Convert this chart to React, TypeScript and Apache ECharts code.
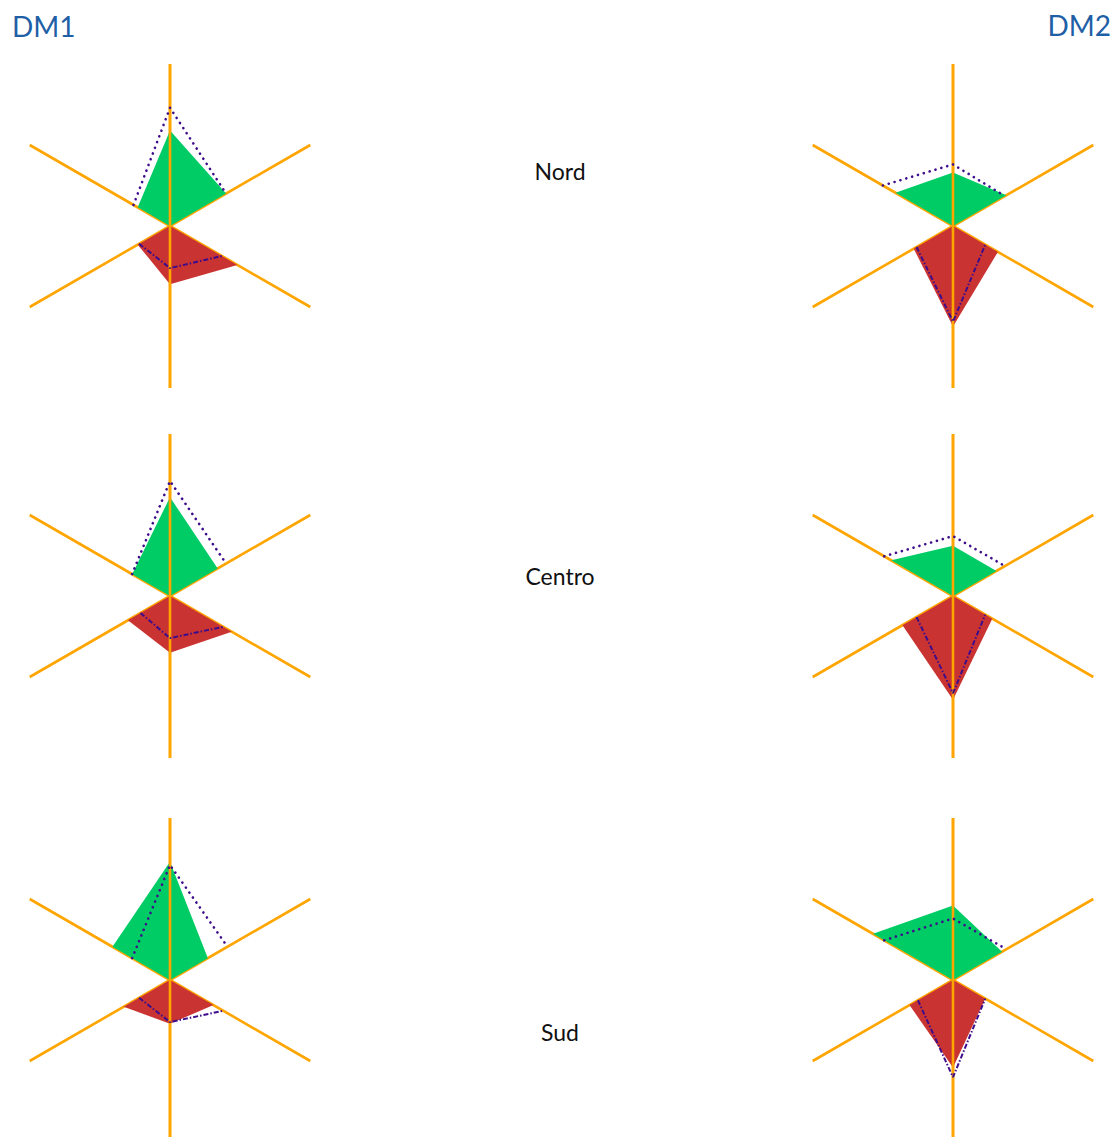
import React, { useEffect, useRef } from "react";
import * as echarts from "echarts";

// Column and row labels
const columns = ["DM1", "DM2"];
const regions = ["Nord", "Centro", "Sud"];

// Axis angles (0 = top, clockwise): upper-left, top, upper-right / lower-left, bottom, lower-right
const upperAngles = [300, 360, 60];
const lowerAngles = [240, 180, 120];

// Values per region (Nord, Centro, Sud); scale 0..100
const dm1Green = [[23, 59, 40], [27, 61, 34], [41, 73, 27]];
const dm1GreenRef = [[26, 73, 40], [27, 71, 40], [27, 71, 41]];
const dm1Red = [[23, 36, 48], [30, 35, 44], [33, 27, 31]];
const dm1RedRef = [[22, 26, 37], [21, 26, 38], [22, 26, 38]];

const dm2Green = [[41, 33, 38], [44, 31, 31], [57, 46, 35]];
const dm2GreenRef = [[50, 38, 37], [49, 37, 37], [49, 38, 38]];
const dm2Red = [[28, 62, 32], [36, 64, 28], [31, 54, 23]];
const dm2RedRef = [[26, 59, 23], [26, 60, 23], [25, 60, 23]];

const GREEN = "#00CC66";
const RED = "#C93331";
const ORANGE = "#FFA500";
const PURPLE = "#3D0D8C";
const BLUE = "#1F5FA6";

const colX = [170, 953];
const rowY = [226, 596, 980];
const RADIUS = 162;

export default function App() {
  const ref = useRef<HTMLDivElement>(null);
  useEffect(() => {
    if (!ref.current) return;
    const chart = echarts.init(ref.current, undefined, { renderer: "svg" });
    const data = [
      { green: dm1Green, greenRef: dm1GreenRef, red: dm1Red, redRef: dm1RedRef },
      { green: dm2Green, greenRef: dm2GreenRef, red: dm2Red, redRef: dm2RedRef },
    ];
    const polar: any[] = [];
    const angleAxis: any[] = [];
    const radiusAxis: any[] = [];
    const series: any[] = [];
    const hiddenRadius = (idx: number) => ({
      polarIndex: idx,
      type: "value",
      min: 0,
      max: 100,
      axisLine: { show: false },
      axisTick: { show: false },
      axisLabel: { show: false },
      splitLine: { show: false },
    });
    const spokes = (idx: number, interval: number, z: number) => ({
      polarIndex: idx,
      type: "value",
      min: 0,
      max: 360,
      interval,
      startAngle: 90,
      clockwise: true,
      z,
      axisLine: { show: false },
      axisTick: { show: false },
      axisLabel: { show: false },
      splitLine: { show: true, lineStyle: { color: ORANGE, width: 2.6 } },
    });
    regions.forEach((_, r) => {
      columns.forEach((__, c) => {
        // base polar: all six spokes, under the fills
        const idx = polar.length;
        polar.push({ center: [colX[c], rowY[r]], radius: RADIUS });
        angleAxis.push(spokes(idx, 60, 1));
        radiusAxis.push(hiddenRadius(idx));
        // overlay polar: vertical spokes above the fills
        const idx2 = polar.length;
        polar.push({ center: [colX[c], rowY[r]], radius: RADIUS });
        angleAxis.push(spokes(idx2, 180, 3));
        radiusAxis.push(hiddenRadius(idx2));

        const d = data[c];
        const mk = (vals: number[], angles: number[]) => vals.map((v, i) => [v, angles[i]]);
        series.push({
          type: "line",
          coordinateSystem: "polar",
          polarIndex: idx,
          data: mk(d.green[r], upperAngles),
          symbol: "none",
          lineStyle: { width: 0 },
          areaStyle: { color: GREEN, opacity: 1 },
          z: 2,
        });
        series.push({
          type: "line",
          coordinateSystem: "polar",
          polarIndex: idx,
          data: mk(d.red[r], lowerAngles),
          symbol: "none",
          lineStyle: { width: 0 },
          areaStyle: { color: RED, opacity: 1 },
          z: 2,
        });
        series.push({
          type: "line",
          coordinateSystem: "polar",
          polarIndex: idx,
          data: mk(d.greenRef[r], upperAngles),
          symbol: "none",
          lineStyle: { color: PURPLE, width: 2.6, type: [0.1, 6], cap: "round" },
          z: 4,
        });
        series.push({
          type: "line",
          coordinateSystem: "polar",
          polarIndex: idx,
          data: mk(d.redRef[r], lowerAngles),
          symbol: "none",
          lineStyle: { color: PURPLE, width: 2, type: [5, 2, 1.5, 2] },
          z: 4,
        });
      });
    });

    const graphic: any[] = [
      { type: "text", x: 12, y: 26, style: { text: columns[0], fill: BLUE, fontSize: 28, fontFamily: "Lato", textVerticalAlign: "middle", textAlign: "left" } },
      { type: "text", x: 1111, y: 25, style: { text: columns[1], fill: BLUE, fontSize: 28, fontFamily: "Lato", textVerticalAlign: "middle", textAlign: "right" } },
    ];
    const labelY = [171, 576, 1032];
    regions.forEach((name, r) => {
      graphic.push({
        type: "text",
        x: 560,
        y: labelY[r],
        style: { text: name, fill: "#111111", fontSize: 23, fontFamily: "Lato", textAlign: "center", textVerticalAlign: "middle" },
      });
    });

    chart.setOption({
      animation: false,
      backgroundColor: "#ffffff",
      polar,
      angleAxis,
      radiusAxis,
      series,
      graphic,
    });
    return () => chart.dispose();
  }, []);
  return <div ref={ref} style={{ position: "absolute", left: 0, top: 0, width: 1115, height: 1137 }} />;
}
